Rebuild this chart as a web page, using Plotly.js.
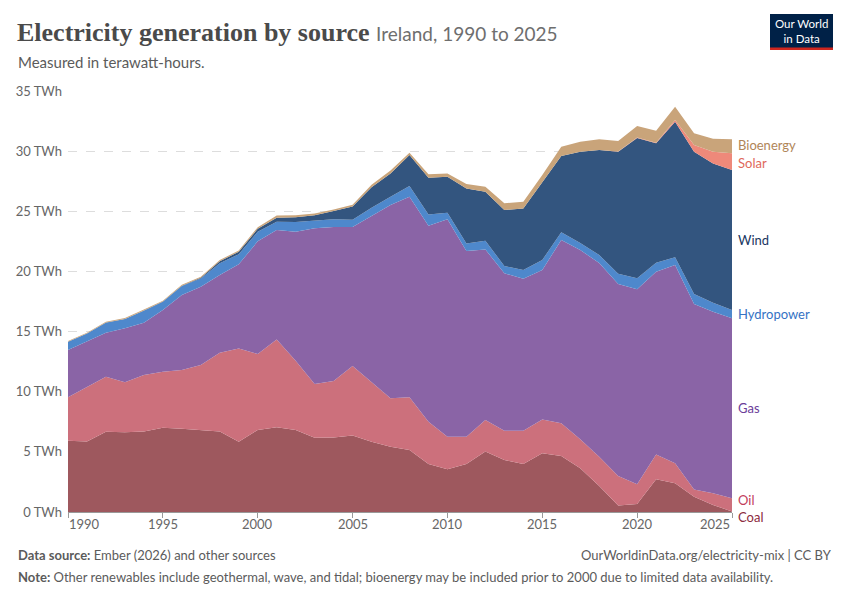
<!DOCTYPE html>
<html>
<head>
<meta charset="utf-8">
<script src="https://cdn.plot.ly/plotly-3.0.1.min.js"></script>
<style>
  html, body { margin: 0; padding: 0; background: #fff; }
  #chart { width: 850px; height: 600px; }
</style>
</head>
<body>
<div id="chart"></div>
<script>
// ---- Data (TWh), Ireland 1990–2025 ----
var years = [1990,1991,1992,1993,1994,1995,1996,1997,1998,1999,
             2000,2001,2002,2003,2004,2005,2006,2007,2008,2009,
             2010,2011,2012,2013,2014,2015,2016,2017,2018,2019,
             2020,2021,2022,2023,2024,2025];

var coal = [5.93,5.87,6.68,6.62,6.70,7.01,6.93,6.79,6.70,5.85,
            6.82,7.04,6.82,6.18,6.20,6.35,5.85,5.43,5.15,3.99,
            3.55,3.99,5.02,4.32,3.99,4.88,4.66,3.63,2.16,0.55,
            0.67,2.72,2.38,1.27,0.58,0.05];

var oil = [3.60,4.55,4.57,4.16,4.69,4.66,4.87,5.43,6.54,7.75,
           6.31,7.31,5.76,4.46,4.69,5.79,4.98,4.02,4.38,3.52,
           2.71,2.27,2.63,2.44,2.77,2.82,2.71,2.41,2.44,2.44,
           1.63,2.07,1.67,0.61,0.97,1.09];

var gas = [3.94,3.74,3.66,4.49,4.35,5.12,6.24,6.51,6.46,6.99,
           9.37,9.09,10.72,12.96,12.81,11.56,13.77,16.07,16.68,16.29,
           18.07,15.44,14.18,13.08,12.64,12.42,15.24,15.74,16.10,15.96,
           16.21,15.19,16.48,15.41,15.10,14.96];

var hydro = [0.69,0.69,0.83,0.77,1.00,0.69,0.75,0.69,0.97,0.83,
             0.80,0.69,0.80,0.62,0.63,0.60,0.70,0.69,0.89,0.94,
             0.55,0.63,0.72,0.61,0.72,0.83,0.64,0.58,0.66,0.86,
             0.92,0.75,0.64,0.83,0.75,0.69];

var wind = [0.00,0.00,0.01,0.01,0.01,0.01,0.02,0.05,0.17,0.22,
            0.24,0.33,0.40,0.45,0.70,1.10,1.70,1.94,2.58,3.05,
            2.99,4.57,4.08,4.65,5.12,6.51,6.34,7.59,8.73,10.14,
            11.67,9.92,11.28,11.83,11.58,11.64];

var solar = [0,0,0,0,0,0,0,0,0,0,
             0,0,0,0,0,0,0,0,0,0,
             0,0,0,0,0,0,0,0,0,0.01,
             0.03,0.05,0.13,0.56,0.97,1.39];

var bioenergy = [0.06,0.06,0.07,0.07,0.08,0.08,0.08,0.09,0.10,0.10,
                 0.14,0.19,0.17,0.14,0.11,0.14,0.20,0.25,0.19,0.28,
                 0.28,0.37,0.41,0.56,0.56,0.55,0.78,0.83,0.89,0.89,
                 0.96,1.00,1.11,0.97,1.08,1.16];

var seriesNames = ["Coal","Oil","Gas","Hydropower","Wind","Solar","Bioenergy"];
var seriesData  = [coal, oil, gas, hydro, wind, solar, bioenergy];
var fillColors  = ["#9e585e","#cc707c","#8a64a6","#4e88cc","#33557f","#ee897a","#c9a47a"];
var labelColors = ["#8c2a3d","#c23d5c","#6b3d99","#3572c4","#1a3661","#e0685a","#b08558"];

var xTicks = [1990,1995,2000,2005,2010,2015,2020,2025];
var yTicks = [0,5,10,15,20,25,30,35];
var yMax = 35;

// ---- Geometry helpers ----
var W = 850, H = 600;
var M = {l: 68, r: 118, t: 91, b: 88};
var PW = W - M.l - M.r, PH = H - M.t - M.b;
function px2x(px){ return (px - M.l) / PW; }
function py2y(py){ return (H - M.b - py) / PH; }

var traces = seriesNames.map(function(name, i){
  return {
    type: "scatter",
    mode: "lines",
    name: name,
    x: years,
    y: seriesData[i],
    stackgroup: "one",
    line: {width: 0, color: fillColors[i]},
    fillcolor: fillColors[i],
    hoverinfo: "x+y+name"
  };
});

// ---- Right-hand labels at the last year, spread to avoid overlap ----
var last = years.length - 1;
var cum = 0, mids = [];
seriesData.forEach(function(arr){
  var v = arr[last];
  mids.push(cum + v / 2);
  cum += v;
});
var pos = mids.slice();
var gap = 1.45;
for (var iter = 0; iter < 50; iter++) {
  for (var k = 1; k < pos.length; k++) {
    var d = pos[k] - pos[k-1];
    if (d < gap) {
      var push = (gap - d) / 2;
      pos[k] += push;
      pos[k-1] -= push;
    }
  }
}

var annotations = [];
seriesNames.forEach(function(name, i){
  annotations.push({
    x: years[last], y: pos[i] / yMax, xref: "x", yref: "paper",
    xanchor: "left", yanchor: "middle", xshift: 4,
    text: name, showarrow: false,
    font: {family: "Lato", size: 13, color: labelColors[i]}
  });
});

// x tick labels (ends aligned inward like the reference)
xTicks.forEach(function(t, i){
  var anchor = (i === 0) ? "left" : (i === xTicks.length - 1 ? "right" : "center");
  annotations.push({
    x: t, y: py2y(524), xref: "x", yref: "paper",
    xanchor: anchor, yanchor: "middle", xshift: (i === 0 ? -1 : 0),
    text: String(t), showarrow: false,
    font: {family: "Lato", size: 13, color: "#666666"}
  });
});

// Title + subtitle
annotations.push({
  x: px2x(15), y: py2y(33), xref: "paper", yref: "paper",
  xanchor: "left", yanchor: "middle", showarrow: false,
  text: "<b>Electricity generation by source</b> <span style='font-family:Lato;font-size:19px;color:#6e6e6e'>Ireland, 1990 to 2025</span>",
  font: {family: "Liberation Serif, DejaVu Serif, serif", size: 26, color: "#4a4a4a"}
});
annotations.push({
  x: px2x(16), y: py2y(62), xref: "paper", yref: "paper",
  xanchor: "left", yanchor: "middle", showarrow: false,
  text: "Measured in terawatt-hours.",
  font: {family: "Lato", size: 15, color: "#5b5b5b"}
});

// Logo text
annotations.push({
  x: px2x(801.5), y: py2y(31), xref: "paper", yref: "paper",
  xanchor: "center", yanchor: "middle", showarrow: false,
  text: "Our World<br>in Data", align: "center",
  font: {family: "Lato", size: 11.5, color: "#ffffff"}
});

// Footer
annotations.push({
  x: px2x(16), y: py2y(555), xref: "paper", yref: "paper",
  xanchor: "left", yanchor: "middle", showarrow: false,
  text: "<b>Data source:</b> Ember (2026) and other sources",
  font: {family: "Lato", size: 13, color: "#5b5b5b"}
});
annotations.push({
  x: px2x(834), y: py2y(555), xref: "paper", yref: "paper",
  xanchor: "right", yanchor: "middle", showarrow: false,
  text: "OurWorldinData.org/electricity-mix | CC BY",
  font: {family: "Lato", size: 13, color: "#5b5b5b"}
});
annotations.push({
  x: px2x(16), y: py2y(577), xref: "paper", yref: "paper",
  xanchor: "left", yanchor: "middle", showarrow: false,
  text: "<b>Note:</b> Other renewables include geothermal, wave, and tidal; bioenergy may be included prior to 2000 due to limited data availability.",
  font: {family: "Lato", size: 13, color: "#5b5b5b"}
});

var shapes = [
  {type: "rect", xref: "paper", yref: "paper",
   x0: px2x(770), x1: px2x(833), y0: py2y(50), y1: py2y(14),
   fillcolor: "#002147", line: {width: 0}},
  {type: "rect", xref: "paper", yref: "paper",
   x0: px2x(770), x1: px2x(833), y0: py2y(50), y1: py2y(47.5),
   fillcolor: "#ce261e", line: {width: 0}}
];

var layout = {
  width: W, height: H,
  margin: M,
  paper_bgcolor: "#ffffff",
  plot_bgcolor: "#ffffff",
  showlegend: false,
  font: {family: "Lato", size: 13, color: "#666666"},
  xaxis: {
    range: [years[0], years[last]],
    tickvals: xTicks,
    showticklabels: false,
    ticks: "outside", ticklen: 5, tickcolor: "#999999",
    showgrid: false, zeroline: false,
    showline: true, linecolor: "#999999", linewidth: 1,
    fixedrange: true
  },
  yaxis: {
    range: [0, yMax],
    tickvals: yTicks,
    ticktext: yTicks.map(function(v){ return v + " TWh"; }),
    ticks: "", ticklabelstandoff: 5,
    showgrid: true, gridcolor: "#dddddd", griddash: "dash", gridwidth: 1,
    zeroline: false, showline: false,
    tickfont: {family: "Lato", size: 13, color: "#666666"},
    fixedrange: true
  },
  annotations: annotations,
  shapes: shapes
};

Plotly.newPlot("chart", traces, layout, {displayModeBar: false, staticPlot: true});
</script>
</body>
</html>
